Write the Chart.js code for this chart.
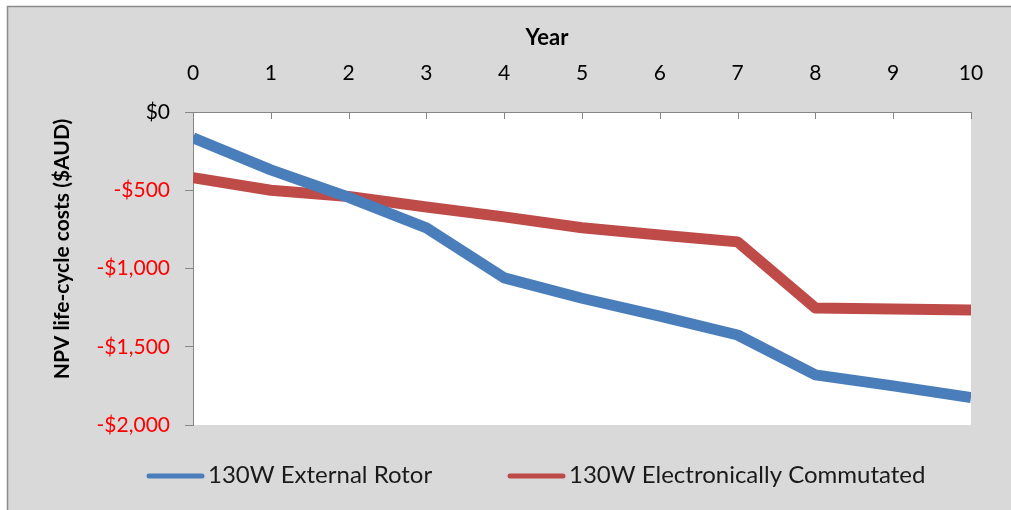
<!DOCTYPE html>
<html>
<head>
<meta charset="utf-8">
<script src="https://cdn.jsdelivr.net/npm/chart.js@4.4.0/dist/chart.umd.min.js"></script>
<style>
  html, body { margin: 0; padding: 0; background: #fff; }
  #wrap { width: 1011px; height: 510px; }
</style>
</head>
<body>
<div id="wrap"><canvas id="c" width="1011" height="510"></canvas></div>
<script>
// Daten
const years = [0, 1, 2, 3, 4, 5, 6, 7, 8, 9, 10];
const externalRotor = [-165, -370, -545, -740, -1060, -1190, -1305, -1425, -1680, -1750, -1825];
const electronicallyCommutated = [-420, -500, -540, -607, -670, -740, -786, -830, -1252, -1258, -1265];
const seriesNames = ['130W External Rotor', '130W Electronically Commutated'];
const seriesColors = ['#4a7ebb', '#be4b48'];
const xTitle = 'Year';
const yTitle = 'NPV life-cycle costs ($AUD)';

const fontFamily = 'Lato, "Open Sans", sans-serif';
const axisColor = '#868686';

function toPoints(values) {
    return years.map((y, i) => ({ x: y, y: values[i] }));
}

function formatMoney(v) {
    const abs = Math.abs(v).toLocaleString('en-US');
    return (v < 0 ? '-$' : '$') + abs;
}

// Hintergrund, Rahmen, innere Ticks, Achsentitel und Legende
const decoPlugin = {
    id: 'deco',
    beforeDraw(chart) {
        const { ctx, chartArea: a, width, height } = chart;
        ctx.save();
        ctx.fillStyle = '#ffffff';
        ctx.fillRect(0, 0, width, height);
        ctx.fillStyle = '#d9d9d9';
        ctx.fillRect(7, 6, width - 7, height - 6);
        ctx.strokeStyle = '#8c8c8c';
        ctx.lineWidth = 1.5;
        ctx.beginPath();
        ctx.moveTo(7.5, height);
        ctx.lineTo(7.5, 6.5);
        ctx.lineTo(width, 6.5);
        ctx.stroke();
        ctx.fillStyle = '#ffffff';
        ctx.fillRect(a.left, a.top, a.right - a.left, a.bottom - a.top);
        ctx.restore();
    },
    afterDraw(chart) {
        const { ctx, chartArea: a } = chart;
        const xs = chart.scales.x;
        ctx.save();
        ctx.strokeStyle = axisColor;
        ctx.lineWidth = 1;
        ctx.beginPath();
        years.forEach(y => {
            const px = Math.round(xs.getPixelForValue(y)) + 0.5;
            ctx.moveTo(px, a.top);
            ctx.lineTo(px, a.top + 7);
        });
        ctx.stroke();

        ctx.fillStyle = '#000';
        ctx.font = 'bold 22px ' + fontFamily;
        ctx.textAlign = 'center';
        ctx.textBaseline = 'middle';
        ctx.fillText(xTitle, 547, 38);

        // Legende
        const legendStarts = [147, 508];
        ctx.font = '24px ' + fontFamily;
        ctx.textAlign = 'left';
        ctx.lineCap = 'round';
        ctx.lineWidth = 5;
        chart.data.datasets.forEach((ds, i) => {
            const x0 = legendStarts[i];
            ctx.strokeStyle = ds.borderColor;
            ctx.beginPath();
            ctx.moveTo(x0 + 2, 476);
            ctx.lineTo(x0 + 55, 476);
            ctx.stroke();
            ctx.fillStyle = '#1a1a1a';
            ctx.fillText(ds.label, x0 + 61, 475);
        });

        ctx.fillStyle = '#000';
        ctx.textAlign = 'center';
        ctx.translate(62, 249);
        ctx.rotate(-Math.PI / 2);
        ctx.font = 'bold 21px ' + fontFamily;
        ctx.fillText(yTitle, 0, 0);
        ctx.restore();
    }
};

const ctx = document.getElementById('c').getContext('2d');
new Chart(ctx, {
    type: 'line',
    data: {
        datasets: [{
            label: seriesNames[0],
            data: toPoints(externalRotor),
            borderColor: seriesColors[0],
            backgroundColor: seriesColors[0],
            borderWidth: 11,
            pointRadius: 0,
            tension: 0,
            borderJoinStyle: 'round',
            clip: 0
        }, {
            label: seriesNames[1],
            data: toPoints(electronicallyCommutated),
            borderColor: seriesColors[1],
            backgroundColor: seriesColors[1],
            borderWidth: 11,
            pointRadius: 0,
            tension: 0,
            borderJoinStyle: 'round',
            clip: 0
        }]
    },
    options: {
        responsive: false,
        animation: false,
        devicePixelRatio: 1,
        layout: { padding: { left: 0, top: 0, right: 40, bottom: 85 } },
        plugins: {
            legend: { display: false },
            tooltip: { enabled: false }
        },
        scales: {
            x: {
                type: 'linear',
                position: 'top',
                min: 0,
                max: 10,
                afterFit(scale) { scale.height = 112; },
                ticks: {
                    stepSize: 1,
                    padding: 26,
                    color: '#000',
                    font: { family: fontFamily, size: 21 }
                },
                grid: { display: false, drawTicks: false },
                border: { display: true, color: axisColor, width: 1 }
            },
            y: {
                min: -2000,
                max: 0,
                afterFit(scale) { scale.width = 193; },
                ticks: {
                    stepSize: 500,
                    padding: 15,
                    font: { family: fontFamily, size: 21 },
                    color: (c) => (c.tick && c.tick.value < 0 ? '#ff0000' : '#000000'),
                    callback: (v) => formatMoney(v)
                },
                grid: { drawOnChartArea: false, tickLength: 8, color: axisColor },
                border: { display: true, color: axisColor, width: 1 }
            }
        }
    },
    plugins: [decoPlugin]
});
</script>
</body>
</html>
